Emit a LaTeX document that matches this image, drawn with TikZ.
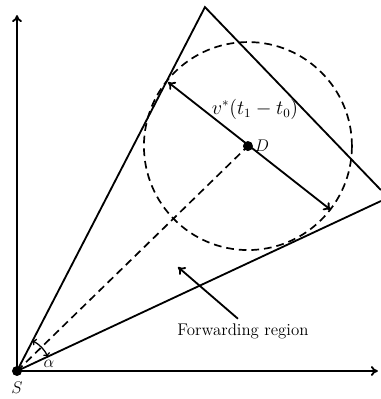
\documentclass[tikz,border=0pt]{standalone}
\usetikzlibrary{arrows.meta}
\tikzset{
  edge/.style={black, line width=1.3pt},
  dashline/.style={black, line width=1.2pt, dash pattern=on 5.5pt off 3.5pt},
  lbl/.style={font=\fontsize{12}{14}\selectfont, inner sep=1pt},
}
\begin{document}
\begin{tikzpicture}[scale=0.025, >={To[length=5pt,width=7pt]}]
\useasboundingbox (-17,-28) rectangle (364,371);

\coordinate (S) at (0,0);
\coordinate (X) at (361,0);
\coordinate (Y) at (0,356);
\coordinate (A) at (188,364);
\coordinate (B) at (364,170);
\coordinate (C) at (364,181);
\coordinate (D) at (231,225);
\coordinate (P) at (151,289);
\coordinate (Q) at (314,161);

% 坐标轴
\draw[edge, ->] (S) -- (X);
\draw[edge, ->] (S) -- (Y);

% 转发区域
\draw[edge] (S) -- (A) -- (C);
\draw[edge] (S) -- (B);

% 圆和中线
\draw[dashline] (D) circle (104);
\draw[dashline] (S) -- (D);
\draw[edge, <->] (P) -- (Q);

% 角度
\draw[black, line width=0.9pt, {To[length=2.5pt]}-{To[length=2.5pt]}] (25:34) arc (25:62.7:34);

\fill (S) circle (5);
\fill (D) circle (5);

\node[lbl] (sl) at (0,-17) {$S$};
\node[lbl] (al) at (32,7) {$\alpha$};
\node[lbl] (dl) at (245,225) {$D$};
\node[lbl, font=\fontsize{13.5}{15}\selectfont] (vl) at (238,262) {$v^{*}(t_1 - t_0)$};
\node[lbl] (fr) at (226,40) {Forwarding region};
\coordinate (F) at (161,104);
\draw[edge, ->] (fr.north) ++(-5,3) -- (F);

\end{tikzpicture}
\end{document}
